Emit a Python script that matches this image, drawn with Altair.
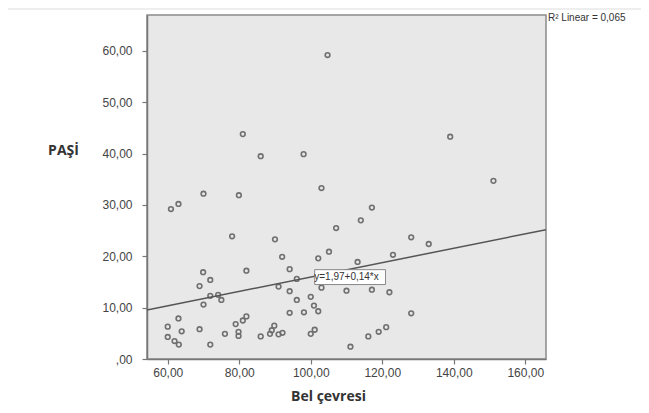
import altair as alt
import pandas as pd

# Bel çevresi (waist circumference) and PAŞİ values
bel_cevresi = [104.7, 81.0, 86.0, 98.0, 103.0, 60.9, 63.0, 70.0, 79.9, 117.1,
               114.0, 107.1, 78.0, 90.0, 139.0, 151.1, 128.1, 133.0, 123.0, 113.1,
               110.0, 117.1, 122.0, 128.1, 121.1, 119.0, 116.1, 111.1, 92.0, 102.1,
               105.1, 94.1, 96.1, 91.0, 94.1, 103.0, 96.1, 100.0, 100.9, 102.1,
               94.1, 98.1, 89.8, 89.1, 91.0, 92.1, 101.1, 100.0, 69.9, 82.0,
               71.9, 68.9, 71.9, 74.1, 75.0, 70.0, 63.0, 60.0, 63.9, 60.0,
               61.9, 63.1, 68.9, 71.9, 76.0, 79.0, 81.0, 82.0, 79.8, 79.8,
               86.0, 88.6]
pasi = [59.2, 43.8, 39.5, 39.9, 33.3, 29.2, 30.2, 32.2, 31.9, 29.5,
        27.0, 25.5, 23.9, 23.3, 43.3, 34.7, 23.7, 22.4, 20.3, 18.9,
        13.3, 13.5, 13.0, 8.9, 6.2, 5.3, 4.4, 2.4, 19.9, 19.6,
        20.9, 17.5, 15.6, 14.1, 13.2, 13.9, 11.5, 12.1, 10.4, 9.3,
        9.0, 9.1, 6.5, 5.6, 4.8, 5.1, 5.7, 4.9, 16.9, 17.2,
        15.4, 14.2, 12.3, 12.5, 11.5, 10.6, 7.9, 6.3, 5.4, 4.3,
        3.5, 2.8, 5.8, 2.8, 4.9, 6.8, 7.5, 8.3, 4.5, 5.3,
        4.4, 4.9]

x_ticks = [60, 80, 100, 120, 140, 160]
y_ticks = [0, 10, 20, 30, 40, 50, 60]
x_domain = [54.2, 165.8]
y_domain = [0, 67]

fit_intercept = 1.97
fit_slope = 0.14
fit_label = "y=1,97+0,14*x"
r2_label = "R² Linear = 0,065"

# label box placement (data units)
label_x = [110.0]
label_y = [15.9]
box_x1, box_x2 = [101.1], [120.9]
box_y1, box_y2 = [14.5], [17.4]

pts = pd.DataFrame({"x": bel_cevresi, "y": pasi})
fit = pd.DataFrame({"x": x_domain,
                    "y": [fit_intercept + fit_slope * v for v in x_domain]})
lab = pd.DataFrame({"x": label_x, "y": label_y, "x1": box_x1, "x2": box_x2,
                    "y1": box_y1, "y2": box_y2, "t": [fit_label]})

fmt = "datum.value == 0 ? ',00' : replace(format(datum.value, '.2f'), '.', ',')"

xs = alt.Scale(domain=x_domain, nice=False, zero=False)
ys = alt.Scale(domain=y_domain, nice=False)

x_axis = alt.Axis(values=x_ticks, labelExpr=fmt, title="Bel çevresi",
                  titleX=181, titleY=41, titleAlign="center", titleBaseline="alphabetic",
                  labelPadding=3, labelFlush=False, labelOverlap=False)
y_axis = alt.Axis(values=y_ticks, labelExpr=fmt, title="PAŞİ", titleAngle=0,
                  titleX=-84, titleY=135, titleAlign="center", titleBaseline="middle",
                  labelPadding=10, labelFlush=False, labelOverlap=False)

points = alt.Chart(pts).mark_point(
    shape="circle", filled=False, size=22, strokeWidth=1.6, color="#707070", opacity=1
).encode(
    x=alt.X("x:Q", scale=xs, axis=x_axis),
    y=alt.Y("y:Q", scale=ys, axis=y_axis),
)

line = alt.Chart(fit).mark_line(color="#555555", strokeWidth=1.5).encode(
    x=alt.X("x:Q", scale=xs), y=alt.Y("y:Q", scale=ys)
)

box = alt.Chart(lab).mark_rect(fill="white", stroke="#888888", strokeWidth=1).encode(
    x=alt.X("x1:Q", scale=xs), x2="x2:Q", y=alt.Y("y1:Q", scale=ys), y2="y2:Q"
)

txt = alt.Chart(lab).mark_text(font="Liberation Sans", fontSize=10, color="#333333",
                               align="center", baseline="middle").encode(
    x=alt.X("x:Q", scale=xs), y=alt.Y("y:Q", scale=ys), text="t:N"
)

r2 = alt.Chart(pd.DataFrame({"t": [r2_label]})).mark_text(
    font="Liberation Sans", fontSize=10, color="#333333", align="left", baseline="middle"
).encode(x=alt.value(401), y=alt.value(3), text="t:N")

top_rule = alt.Chart(pd.DataFrame({"t": [0]})).mark_rule(
    color="#dddddd", strokeWidth=1
).encode(x=alt.value(-139), x2=alt.value(494), y=alt.value(-6))

chart = alt.layer(points, line, box, txt, r2, top_rule).properties(
    width=399, height=344,
    autosize=alt.AutoSizeParams(type="none"),
    padding={"left": 139, "top": 7, "right": 95, "bottom": 46},
    background="white",
).configure_view(
    stroke="#8a8a8a", strokeWidth=1.5, fill="#e8e8e8"
).configure_axis(
    labelFont="Liberation Sans", labelFontSize=12, labelColor="#444444",
    tickColor="#777777", tickSize=5, tickWidth=1.2,
    domainColor="#777777", domainWidth=1.5, grid=False,
    titleFont="Open Sans", titleFontWeight="bold", titleFontSize=14, titleColor="#333333",
)

chart.save("out.html", embed_options={"renderer": "svg", "actions": False})
